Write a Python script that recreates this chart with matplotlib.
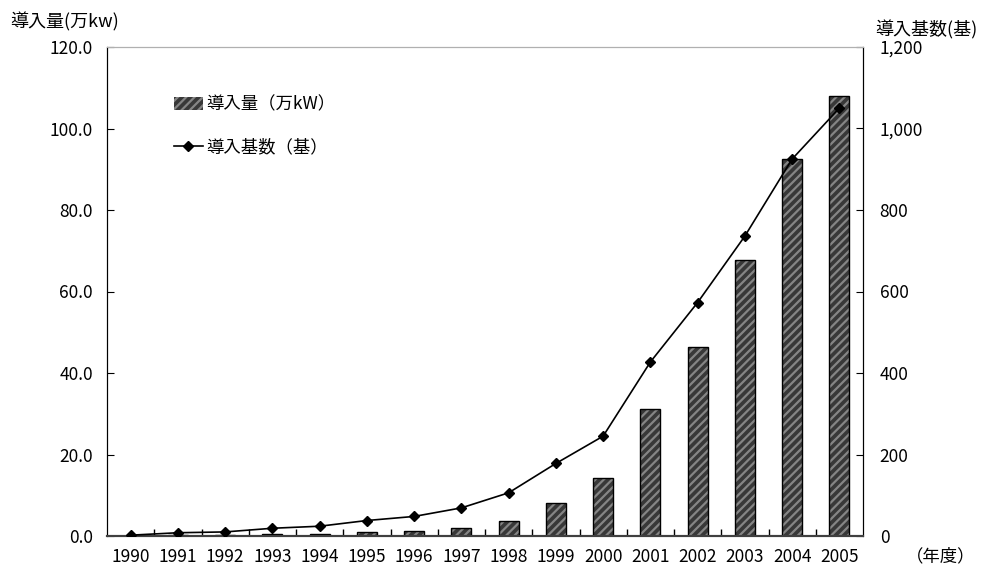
import matplotlib
matplotlib.use("Agg")
import matplotlib.pyplot as plt
from matplotlib.patches import Patch
from matplotlib.lines import Line2D
from matplotlib.ticker import FuncFormatter, FixedLocator

plt.rcParams['font.family'] = ['Noto Sans CJK JP', 'DejaVu Sans']
plt.rcParams['hatch.linewidth'] = 1.6

# 年度別の導入量(万kW)と導入基数(基)
years = [str(y) for y in range(1990, 2006)]
capacity = [0.1, 0.2, 0.3, 0.4, 0.6, 1.0, 1.3, 2.0, 3.7, 8.2, 14.2, 31.2, 46.3, 67.8, 92.6, 108.0]
units = [2, 8, 10, 19, 24, 38, 48, 69, 106, 178, 245, 427, 573, 736, 925, 1050]

BAR_FACE = '#383838'
BAR_HATCH = '#858585'

fig = plt.figure(figsize=(9.89, 5.68), dpi=100)
ax = fig.add_axes([107 / 989, 1 - 536 / 568, 756 / 989, 489 / 568])
ax2 = ax.twinx()

x = list(range(len(years)))
w = 0.42
ax.bar(x, capacity, width=w, color=BAR_FACE, edgecolor=BAR_HATCH,
       hatch='////', linewidth=0, zorder=2)
ax.bar(x, capacity, width=w, fill=False, edgecolor='black', linewidth=1.0, zorder=3)

ax2.plot(x, units, color='black', linewidth=1.2, marker='D', markersize=5.5, zorder=4)

ax.set_xlim(-0.5, len(years) - 0.5)
ax.set_ylim(0, 120)
ax2.set_ylim(0, 1200)
ax.set_yticks([0, 20, 40, 60, 80, 100, 120])
ax.yaxis.set_major_formatter(FuncFormatter(lambda v, p: f"{v:.1f}"))
ax2.set_yticks([0, 200, 400, 600, 800, 1000, 1200])
ax2.yaxis.set_major_formatter(FuncFormatter(lambda v, p: f"{int(v):,}"))

ax.set_xticks(x)
ax.set_xticklabels(years)
ax.xaxis.set_minor_locator(FixedLocator([i + 0.5 for i in x[:-1]]))
ax.tick_params(axis='x', which='major', length=0, labelsize=12.5, pad=9)
ax.tick_params(axis='x', which='minor', direction='in', length=5, width=1)
ax.tick_params(axis='y', direction='in', length=5, labelsize=12.5, pad=10)
ax2.tick_params(axis='y', direction='in', length=5, labelsize=12.5, pad=12)

for a in (ax, ax2):
    a.spines['top'].set_color('#b0b0b0')
    a.spines['left'].set_color('black')
    a.spines['right'].set_color('black')
    a.spines['bottom'].set_color('#404040')
    a.spines['bottom'].set_linewidth(1.5)

fig.text(10 / 989, 1 - 22 / 568, '導入量(万kw)', fontsize=13, va='center', ha='left')
fig.text(875 / 989, 1 - 30 / 568, '導入基数(基)', fontsize=13, va='center', ha='left')
fig.text(941 / 989, 1 - 556 / 568, '（年度）', fontsize=12.5, va='center', ha='center')

handles = [Patch(facecolor=BAR_FACE, edgecolor=BAR_HATCH, hatch='////', linewidth=0),
           Line2D([], [], color='black', linewidth=1.2, marker='D', markersize=5)]
ax.legend(handles, ['導入量（万kW）', '導入基数（基）'], loc='upper left',
          bbox_to_anchor=(158 / 989, 1 - 80 / 568), bbox_transform=fig.transFigure,
          frameon=False, fontsize=12.5, handlelength=1.7, handleheight=0.8,
          labelspacing=1.4, handletextpad=0.2)

fig.savefig('out.png', dpi=100)
